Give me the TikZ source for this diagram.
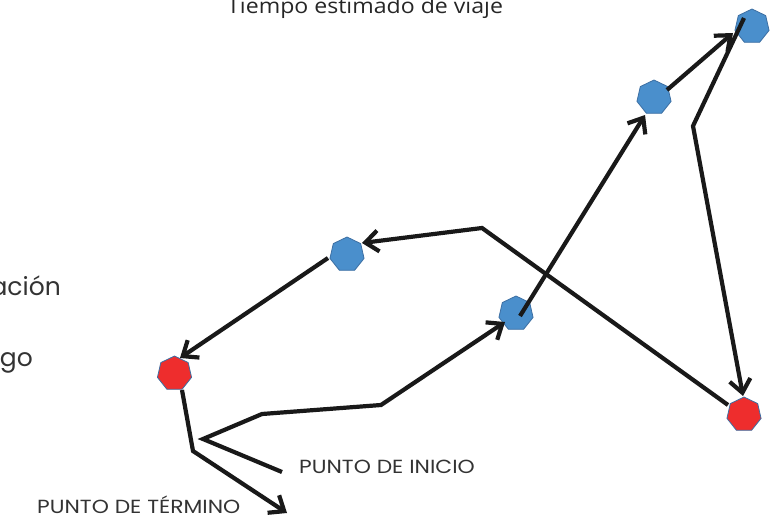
\documentclass[tikz,border=0pt]{standalone}
\usepackage{fontspec}
\setmainfont{Poppins}
\newfontfamily\ttlfont{Open Sans}[FakeStretch=1.1]
\newfontfamily\lblfont{Poppins}[FakeStretch=1.15]
\usetikzlibrary{shapes.geometric,arrows.meta}
\definecolor{hexblue}{HTML}{4A8FCC}
\definecolor{hexred}{HTML}{EE2D2D}
\definecolor{hexedge}{HTML}{3D6FA3}
\definecolor{txtgray}{HTML}{333333}
\tikzset{
  hexnode/.style={regular polygon,regular polygon sides=7,minimum size=35pt,inner sep=0pt,draw=hexedge,line width=0.8pt},
  bluehex/.style={hexnode,fill=hexblue},
  redhex/.style={hexnode,fill=hexred},
  route/.style={line width=4.2pt,draw=black!90,line join=miter},
  routearrow/.style={route,-{Straight Barb[length=13pt,width=21pt]}},
  lbl/.style={inner sep=0pt,text=txtgray,font=\lblfont\fontsize{19}{22}\selectfont},
  sidelbl/.style={inner sep=0pt,text=txtgray,font=\fontsize{25}{30}\selectfont},
}
\begin{document}
\begin{tikzpicture}[x=1pt,y=-1pt]
\useasboundingbox (0,0) rectangle (784,519);
% nodes
\node[redhex]  (r1) at (174.5,373.5) {};
\node[bluehex] (b1) at (347,254.5) {};
\node[bluehex] (b2) at (516,313.5) {};
\node[bluehex] (b3) at (654,97.5) {};
\node[bluehex] (b4) at (752,26.5) {};
\node[redhex]  (r2) at (744,414.5) {};
% texts
\node[anchor=base west,inner sep=0pt,text=black!85,font=\ttlfont\fontsize{21}{24}\selectfont] (title) at (227,14) {Tiempo estimado de viaje};
\node[lbl,anchor=base west] (inicio) at (299,473) {PUNTO DE INICIO};
\node[lbl,anchor=base west] (termino) at (37,513) {PUNTO DE TÉRMINO};
\node[sidelbl,anchor=base east] (s1) at (61,295) {ación};
\node[sidelbl,anchor=base east] (s2) at (33,366) {go};
% coordinates
\coordinate (p0) at (282,472);
\coordinate (p1) at (203,439);
\coordinate (p2) at (262,414);
\coordinate (p3) at (381,405);
\coordinate (t1) at (505,322);
\coordinate (s2a) at (520,316);
\coordinate (t2) at (645,115);
\coordinate (s3) at (667,90);
\coordinate (t3) at (733,33);
\coordinate (s4) at (744,18);
\coordinate (k4) at (693,126);
\coordinate (t4) at (743,396);
\coordinate (s5) at (728,405);
\coordinate (k5) at (482,228);
\coordinate (t5) at (362,243);
\coordinate (s6) at (328,258);
\coordinate (t6) at (180,358);
\coordinate (s7) at (182,390);
\coordinate (k7) at (193,451);
\coordinate (t7) at (287,513);
% connectors
\draw[routearrow] (p0) -- (p1) -- (p2) -- (p3) -- (t1);
\draw[routearrow] (s2a) -- (t2);
\draw[routearrow] (s3) -- (t3);
\draw[routearrow] (s4) -- (k4) -- (t4);
\draw[routearrow] (s5) -- (k5) -- (t5);
\draw[routearrow] (s6) -- (t6);
\draw[routearrow] (s7) -- (k7) -- (t7);
\end{tikzpicture}
\end{document}
